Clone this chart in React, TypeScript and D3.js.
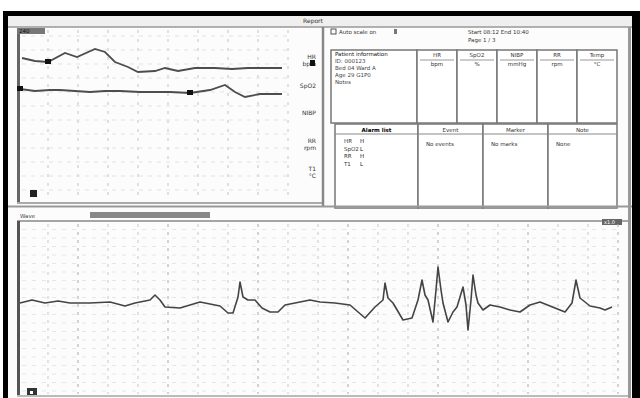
import React, { useEffect, useRef } from 'react';
import * as d3 from 'd3';

// trend panel, top left (minutes / bpm)
const trendTime = [2, 15, 28, 45, 57, 75, 85, 95, 108, 118, 135, 145, 158, 175, 195, 212, 228, 245, 262];
const trendHR = [140, 137, 136, 145, 141, 149, 146, 136, 131, 126, 127, 130, 127, 130, 130, 129, 130, 130, 130];
const trendTime2 = [0, 15, 30, 40, 55, 70, 85, 100, 120, 150, 170, 190, 205, 215, 225, 240, 262];
const trendSpO2 = [109, 107, 108, 108, 107, 106, 107, 107, 106, 106, 105, 108, 113, 106, 101, 104, 104];
const trendMarks = [[28, 136], [0, 109], [170, 105]];
const trendLabels = [['HR', 'bpm'], ['SpO2'], ['NIBP'], ['RR', 'rpm'], ['T1', '°C']];

// waveform panel, bottom
const waveTime = [0, 12, 25, 38, 50, 70, 90, 105, 115, 130, 135, 140, 145, 160, 180, 200, 208, 213, 218, 220, 223, 228, 235, 242, 250, 258, 265, 275, 290, 300, 315, 330, 345, 355, 363, 365, 368, 373, 383, 392, 398, 402, 405, 408, 413, 416, 418, 421, 423, 428, 433, 437, 443, 446, 448, 451, 453, 456, 458, 463, 470, 480, 490, 500, 510, 520, 535, 545, 552, 556, 560, 570, 580, 585, 592];
const waveVal = [140, 143, 140, 142, 140, 140, 141, 137, 140, 143, 148, 143, 136, 135, 141, 137, 130, 130, 146, 161, 146, 143, 143, 135, 131, 131, 138, 140, 143, 141, 140, 138, 125, 136, 143, 160, 145, 140, 123, 125, 143, 163, 148, 143, 121, 153, 176, 153, 140, 121, 131, 136, 156, 138, 113, 143, 168, 148, 140, 133, 138, 136, 133, 131, 138, 141, 135, 131, 140, 163, 145, 137, 135, 133, 136];

// side table texts
const infoLines = ['Patient information', 'ID: 000123', 'Bed 04  Ward A', 'Age 29  G1P0', 'Notes'];
const upperHeads = [['HR', 'bpm'], ['SpO2', '%'], ['NIBP', 'mmHg'], ['RR', 'rpm'], ['Temp', '°C']];
const lowerHeads = ['Alarm list', 'Event', 'Marker', 'Note'];
const lowerTexts = ['', 'No events', 'No marks', 'None'];
const alarmRows = [['HR', 'H'], ['SpO2', 'L'], ['RR', 'H'], ['T1', 'L']];

function draw(svgRef: React.RefObject<SVGSVGElement>) {
  const svg = d3.select(svgRef.current);
  svg.selectAll('*').remove();
  const font = 'DejaVu Sans, sans-serif';

  // screen frame
  svg.append('rect').attr('width', 640).attr('height', 398).attr('fill', '#fff');
  svg.append('rect').attr('x', 3).attr('y', 11).attr('width', 637).attr('height', 387).attr('fill', '#000');
  svg.append('rect').attr('x', 8).attr('y', 16).attr('width', 624).attr('height', 382).attr('fill', '#fcfcfc');
  svg.append('rect').attr('x', 8).attr('y', 16).attr('width', 624).attr('height', 11).attr('fill', '#efefef');
  svg.append('line').attr('x1', 8).attr('x2', 632).attr('y1', 27).attr('y2', 27).attr('stroke', '#999').attr('stroke-width', 1.5);
  svg.append('text').attr('x', 313).attr('y', 23).attr('text-anchor', 'middle').attr('font-family', font)
    .attr('font-size', 6).attr('fill', '#333').text('Report');

  // ---- trend panel ----
  const tx = d3.scaleLinear().domain([0, 270]).range([20, 290]);
  const ty = d3.scaleLinear().domain([0, 170]).range([198, 28]);
  const tg = svg.append('g');
  d3.range(28, 270, 30).forEach(t => {
    tg.append('line').attr('x1', tx(t)).attr('x2', tx(t)).attr('y1', 30).attr('y2', 200)
      .attr('stroke', '#c4c4c4').attr('stroke-dasharray', '3 6');
  });
  d3.range(8, 165, 14).forEach(v => {
    tg.append('line').attr('x1', 22).attr('x2', 290).attr('y1', ty(v)).attr('y2', ty(v))
      .attr('stroke', '#e2e2e2').attr('stroke-dasharray', '4 5');
  });
  tg.append('line').attr('x1', 18.5).attr('x2', 18.5).attr('y1', 28).attr('y2', 203).attr('stroke', '#666').attr('stroke-width', 3);
  tg.append('line').attr('x1', 17).attr('x2', 322).attr('y1', 203).attr('y2', 203).attr('stroke', '#aaa').attr('stroke-width', 2);
  tg.append('line').attr('x1', 323).attr('x2', 323).attr('y1', 27).attr('y2', 207).attr('stroke', '#888').attr('stroke-width', 2.5);
  tg.append('rect').attr('x', 17).attr('y', 28).attr('width', 28).attr('height', 6).attr('fill', '#777');
  tg.append('text').attr('x', 19).attr('y', 33).attr('font-family', font).attr('font-size', 5.5).attr('fill', '#111').text('240');
  tg.append('rect').attr('x', 30).attr('y', 190).attr('width', 7).attr('height', 7).attr('fill', '#222');

  const tline = d3.line<number>().x((d, i) => tx(trendTime[i])).y(d => ty(d));
  const tline2 = d3.line<number>().x((d, i) => tx(trendTime2[i])).y(d => ty(d));
  tg.append('path').attr('d', tline(trendHR)).attr('fill', 'none').attr('stroke', '#4d4d4d').attr('stroke-width', 1.8);
  tg.append('path').attr('d', tline2(trendSpO2)).attr('fill', 'none').attr('stroke', '#4d4d4d').attr('stroke-width', 1.8);
  trendMarks.forEach(([t, v]) => {
    tg.append('rect').attr('x', tx(t) - 3).attr('y', ty(v) - 3).attr('width', 6).attr('height', 5).attr('fill', '#111');
  });
  const labelY = [59, 88, 115, 143, 171];
  trendLabels.forEach((lines, i) => {
    lines.forEach((s, j) => {
      tg.append('text').attr('x', 316).attr('y', labelY[i] + j * 7).attr('text-anchor', 'end')
        .attr('font-family', font).attr('font-size', 6).attr('fill', '#333').text(s);
    });
  });
  tg.append('rect').attr('x', 310).attr('y', 60).attr('width', 5).attr('height', 6).attr('fill', '#111');

  // ---- side table ----
  const sg = svg.append('g').attr('font-family', font).attr('fill', '#333');
  sg.append('rect').attr('x', 331).attr('y', 29).attr('width', 5).attr('height', 5).attr('fill', 'none').attr('stroke', '#555');
  sg.append('text').attr('x', 339).attr('y', 34).attr('font-size', 5.5).text('Auto scale on');
  sg.append('rect').attr('x', 394).attr('y', 29).attr('width', 3).attr('height', 5).attr('fill', '#777');
  sg.append('text').attr('x', 468).attr('y', 34).attr('font-size', 5.5).text('Start 08:12  End 10:40');
  sg.append('text').attr('x', 468).attr('y', 42).attr('font-size', 5.5).text('Page 1 / 3');

  const box = (x: number, y: number, w: number, h: number) =>
    sg.append('rect').attr('x', x).attr('y', y).attr('width', w).attr('height', h)
      .attr('fill', '#fff').attr('stroke', '#777').attr('stroke-width', 1.5);
  box(331, 50, 86, 73);
  const colX = [417, 457, 497, 537, 577];
  colX.forEach((x, i) => {
    box(x, 50, 40, 73);
    upperHeads[i].forEach((s, j) => {
      sg.append('text').attr('x', x + 20).attr('y', 57 + j * 9).attr('text-anchor', 'middle')
        .attr('font-size', 5.5).text(s);
    });
    sg.append('line').attr('x1', x + 3).attr('x2', x + 37).attr('y1', 60).attr('y2', 60).attr('stroke', '#999');
  });
  infoLines.forEach((s, i) => {
    sg.append('text').attr('x', 335).attr('y', 56 + i * 7).attr('font-size', 5.5)
      .attr('fill', i === 0 ? '#111' : '#444').text(s);
  });
  const lowX = [335, 418, 483, 548, 617];
  lowerHeads.forEach((s, i) => {
    const x = lowX[i], w = lowX[i + 1] - x;
    box(x, 124, w, 84);
    sg.append('line').attr('x1', x).attr('x2', x + w).attr('y1', 134).attr('y2', 134).attr('stroke', '#888');
    sg.append('text').attr('x', x + w / 2).attr('y', 132).attr('text-anchor', 'middle').attr('font-size', 5.5)
      .attr('fill', i === 0 ? '#000' : '#333').attr('font-weight', i === 0 ? 'bold' : 'normal').text(s);
    if (lowerTexts[i]) {
      sg.append('text').attr('x', x + 8).attr('y', 146).attr('font-size', 5.5).text(lowerTexts[i]);
    }
  });
  alarmRows.forEach(([a, b], i) => {
    sg.append('text').attr('x', 344).attr('y', 143 + i * 7.5).attr('font-size', 5.5).text(a);
    sg.append('text').attr('x', 360).attr('y', 143 + i * 7.5).attr('font-size', 5.5).attr('fill', '#111').text(b);
  });
  sg.append('line').attr('x1', 629.5).attr('x2', 629.5).attr('y1', 27).attr('y2', 398).attr('stroke', '#999').attr('stroke-width', 3);

  // ---- waveform panel ----
  const wx = d3.scaleLinear().domain([0, 600]).range([20, 620]);
  const wy = d3.scaleLinear().domain([48, 221]).range([395, 222]);
  const wg = svg.append('g');
  wg.append('line').attr('x1', 8).attr('x2', 632).attr('y1', 206.5).attr('y2', 206.5).attr('stroke', '#999').attr('stroke-width', 2);
  wg.append('rect').attr('x', 90).attr('y', 212).attr('width', 120).attr('height', 6).attr('fill', '#888');
  wg.append('text').attr('x', 20).attr('y', 218).attr('font-family', font).attr('font-size', 5.5).attr('fill', '#444').text('Wave');
  wg.append('line').attr('x1', 17).attr('x2', 628).attr('y1', 221).attr('y2', 221).attr('stroke', '#888').attr('stroke-width', 1.5);
  wg.append('rect').attr('x', 602).attr('y', 219).attr('width', 20).attr('height', 6).attr('fill', '#666');
  wg.append('text').attr('x', 604).attr('y', 224).attr('font-family', font).attr('font-size', 5).attr('fill', '#fff').text('x1.0');
  d3.range(28, 600, 30).forEach((t, i) => {
    wg.append('line').attr('x1', wx(t)).attr('x2', wx(t)).attr('y1', 224).attr('y2', 394)
      .attr('stroke', i % 3 === 1 ? '#aaa' : '#c8c8c8').attr('stroke-dasharray', '3 5');
  });
  d3.range(52, 218, 8.5).forEach(v => {
    wg.append('line').attr('x1', 22).attr('x2', 620).attr('y1', wy(v)).attr('y2', wy(v))
      .attr('stroke', '#e6e6e6').attr('stroke-dasharray', '4 6');
  });
  wg.append('line').attr('x1', 18.5).attr('x2', 18.5).attr('y1', 221).attr('y2', 396).attr('stroke', '#555').attr('stroke-width', 3);
  wg.append('line').attr('x1', 17).attr('x2', 628).attr('y1', 396).attr('y2', 396).attr('stroke', '#bbb').attr('stroke-width', 2);
  wg.append('rect').attr('x', 27).attr('y', 388).attr('width', 10).attr('height', 7).attr('fill', '#333');
  wg.append('rect').attr('x', 30).attr('y', 391).attr('width', 3).attr('height', 3).attr('fill', '#fff');

  const wline = d3.line<number>().x((d, i) => wx(waveTime[i])).y(d => wy(d));
  wg.append('path').attr('d', wline(waveVal)).attr('fill', 'none').attr('stroke', '#444')
    .attr('stroke-width', 1.6).attr('stroke-linejoin', 'round');
}

export default function App() {
  const svg = useRef<SVGSVGElement>(null);
  useEffect(() => {
    draw(svg);
  }, [svg]);
  return (
    <div>
      <style>{'body{margin:0}'}</style>
      <svg ref={svg} width={640} height={398} style={{ display: 'block' }} />
    </div>
  );
}
